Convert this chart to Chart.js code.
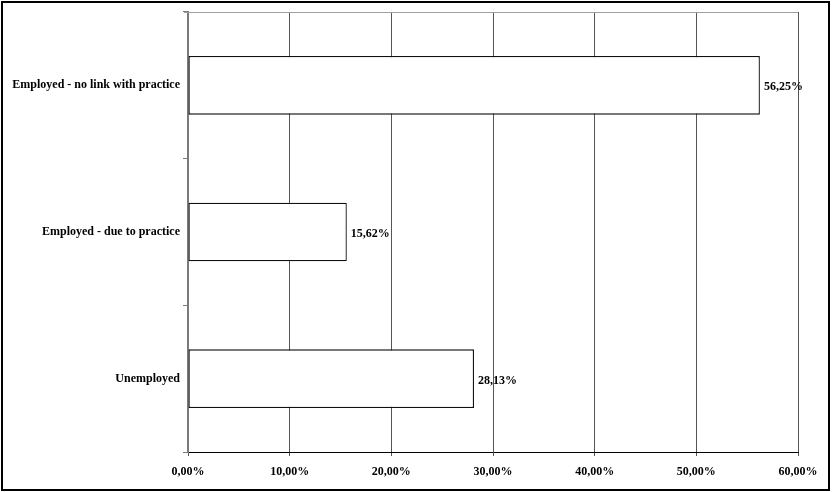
<!DOCTYPE html>
<html>
<head>
<meta charset="utf-8">
<script src="https://cdn.jsdelivr.net/npm/chart.js@4"></script>
<style>
  html, body { margin: 0; padding: 0; background: #fff; }
  #wrap { position: relative; width: 833px; height: 492px; }
</style>
</head>
<body>
<div id="wrap"><canvas id="chart" width="833" height="492"></canvas></div>
<script>
// data
const categories = ['Employed - no link with practice', 'Employed - due to practice', 'Unemployed'];
const shares = [56.25, 15.62, 28.13];
const tickMax = 60;

const fontSpec = { family: '"Liberation Serif", "Times New Roman", serif', size: 12, weight: 'bold' };

function pct(v) {
    return v.toFixed(2).replace('.', ',') + '%';
}

// value labels at the end of each bar + top line + outer frame
const extras = {
    id: 'extras',
    afterDatasetsDraw(chart) {
        const ctx = chart.ctx;
        const meta = chart.getDatasetMeta(0);
        ctx.save();
        ctx.font = 'bold 12px "Liberation Serif", "Times New Roman", serif';
        ctx.fillStyle = '#000';
        ctx.textAlign = 'left';
        ctx.textBaseline = 'middle';
        meta.data.forEach((bar, i) => {
            ctx.fillText(pct(shares[i]), bar.x + 4, bar.y + 2);
        });
        // top line of the plot
        const a = chart.chartArea;
        ctx.strokeStyle = '#a0a0a0';
        ctx.lineWidth = 1;
        ctx.beginPath();
        ctx.moveTo(a.left - 4, a.top + 0.5);
        ctx.lineTo(a.right, a.top + 0.5);
        ctx.stroke();
        // frame round the whole picture
        ctx.strokeStyle = '#000';
        ctx.lineWidth = 2;
        ctx.strokeRect(2, 2, 827, 488);
        ctx.restore();
    }
};

new Chart(document.getElementById('chart'), {
    type: 'bar',
    data: {
        labels: categories,
        datasets: [{
            data: shares,
            backgroundColor: '#fff',
            borderColor: '#111',
            borderWidth: 1.3,
            borderSkipped: false,
            categoryPercentage: 1,
            barPercentage: 0.4
        }]
    },
    options: {
        indexAxis: 'y',
        responsive: false,
        animation: false,
        layout: { padding: { top: 12, right: 35, left: 0, bottom: 0 } },
        plugins: {
            legend: { display: false },
            tooltip: { enabled: false }
        },
        scales: {
            x: {
                min: 0,
                max: tickMax,
                ticks: {
                    stepSize: 10,
                    color: '#000',
                    font: fontSpec,
                    padding: 9,
                    callback: v => pct(v)
                },
                grid: { color: '#555', lineWidth: 1, tickLength: 4, drawTicks: true },
                border: { color: '#000', width: 1 },
                afterFit(scale) { scale.height = 40; }
            },
            y: {
                ticks: { color: '#000', font: fontSpec, padding: 3 },
                grid: { drawOnChartArea: false, color: '#7a7a7a', tickLength: 5 },
                border: { color: '#7a7a7a', width: 2 },
                afterFit(scale) { scale.width = 188; }
            }
        }
    },
    plugins: [extras]
});
</script>
</body>
</html>
